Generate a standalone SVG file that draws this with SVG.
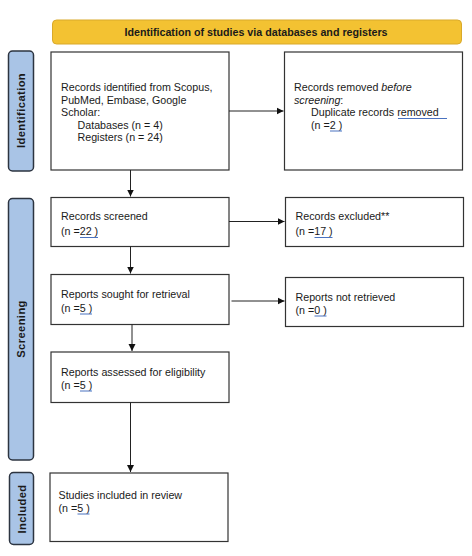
<svg xmlns="http://www.w3.org/2000/svg" width="472" height="556" viewBox="0 0 472 556">
<defs>
<style>
.box{fill:#fff;stroke:#333;stroke-width:1.2}
.side{fill:#a9c4e6;stroke:#2c3440;stroke-width:1.5}
.t{font-family:"Liberation Sans",Arial,sans-serif;font-size:10.7px;fill:#1a1a1a}
.sl{font-family:"Liberation Sans",Arial,sans-serif;font-size:11.2px;font-weight:bold;fill:#1a1a1a;letter-spacing:0.4px}
.hd{font-family:"Liberation Sans",Arial,sans-serif;font-size:10.7px;font-weight:bold;fill:#1a1a1a}
.ul{stroke:#4a72c0;stroke-width:1}
.c{stroke:#222;stroke-width:1;fill:none;marker-end:url(#ah)}
</style>
<marker id="ah" markerWidth="8" markerHeight="8" refX="7" refY="4" orient="auto" markerUnits="userSpaceOnUse">
<path d="M0,0.5 L7,4 L0,7.5 Z" fill="#111"/>
</marker>
</defs>
<rect width="472" height="556" fill="#fff"/>

<g id="header">
<rect x="52.5" y="20" width="409" height="24" rx="4" fill="#f3c232" stroke="#d9a92a" stroke-width="1"/>
<text class="hd" x="256" y="36" text-anchor="middle">Identification of studies via databases and registers</text>
</g>

<g id="side-identification">
<rect class="side" x="8.5" y="51" width="25" height="120" rx="4"/>
<text class="sl" transform="translate(25,110.5) rotate(-90)" text-anchor="middle">Identification</text>
</g>
<g id="side-screening">
<rect class="side" x="8.5" y="198.5" width="25" height="261.5" rx="4"/>
<text class="sl" transform="translate(25,329) rotate(-90)" text-anchor="middle">Screening</text>
</g>
<g id="side-included">
<rect class="side" x="9.5" y="472.5" width="24" height="72" rx="4"/>
<text class="sl" transform="translate(25.5,509) rotate(-90)" text-anchor="middle">Included</text>
</g>

<g id="records-identified">
<rect class="box" x="51" y="52" width="178" height="118"/>
<text class="t" x="61" y="91">Records identified from Scopus,</text>
<text class="t" x="61" y="103.5">PubMed, Embase, Google</text>
<text class="t" x="61" y="116">Scholar:</text>
<text class="t" x="77.5" y="128.5">Databases (n = 4)</text>
<text class="t" x="77.5" y="141">Registers (n = 24)</text>
</g>

<g id="records-removed">
<rect class="box" x="284.5" y="52" width="178" height="118"/>
<text class="t" x="294" y="91">Records removed <tspan font-style="italic">before</tspan></text>
<text class="t" x="294" y="103.5"><tspan font-style="italic">screening</tspan>:</text>
<text class="t" x="311" y="116">Duplicate records removed</text>
<text class="t" x="311" y="128.5">(n =2 )</text>
<line class="ul" x1="398" y1="118.5" x2="447" y2="118.5"/>
<line class="ul" x1="330" y1="131" x2="342" y2="131"/>
</g>

<g id="records-screened">
<rect class="box" x="51" y="197.5" width="178" height="49"/>
<text class="t" x="61" y="220">Records screened</text>
<text class="t" x="61" y="235">(n =22 )</text>
<line class="ul" x1="80" y1="237.5" x2="98" y2="237.5"/>
</g>

<g id="records-excluded">
<rect class="box" x="285.5" y="197.5" width="178" height="49"/>
<text class="t" x="295.5" y="220">Records excluded**</text>
<text class="t" x="295.5" y="235">(n =17 )</text>
<line class="ul" x1="314.5" y1="237.5" x2="332.5" y2="237.5"/>
</g>

<g id="reports-sought">
<rect class="box" x="51" y="274.5" width="178" height="50"/>
<text class="t" x="61" y="298">Reports sought for retrieval</text>
<text class="t" x="61" y="311.5">(n =5 )</text>
<line class="ul" x1="80" y1="314" x2="92" y2="314"/>
</g>

<g id="reports-not-retrieved">
<rect class="box" x="285.5" y="277.5" width="178" height="49"/>
<text class="t" x="295.5" y="300.5">Reports not retrieved</text>
<text class="t" x="295.5" y="313.5">(n =0 )</text>
<line class="ul" x1="314.5" y1="316" x2="326.5" y2="316"/>
</g>

<g id="reports-assessed">
<rect class="box" x="51" y="352" width="178" height="50.5"/>
<text class="t" x="61" y="376">Reports assessed for eligibility</text>
<text class="t" x="61" y="388.5">(n =5 )</text>
<line class="ul" x1="80" y1="391" x2="92" y2="391"/>
</g>

<g id="studies-included">
<rect class="box" x="50" y="473" width="178" height="68.5"/>
<text class="t" x="58.5" y="499">Studies included in review</text>
<text class="t" x="58.5" y="511.5">(n =5 )</text>
<line class="ul" x1="77.5" y1="514" x2="89.5" y2="514"/>
</g>

<g id="connectors">
<line class="c" x1="229" y1="111" x2="283.5" y2="111"/>
<line class="c" x1="130.5" y1="170" x2="130.5" y2="196.5"/>
<line class="c" x1="229" y1="221.5" x2="284.5" y2="221.5"/>
<line class="c" x1="130.5" y1="246.5" x2="130.5" y2="273.5"/>
<line class="c" x1="231.5" y1="301" x2="284.5" y2="301"/>
<line class="c" x1="132" y1="324.5" x2="132" y2="351"/>
<line class="c" x1="130.5" y1="402.5" x2="130.5" y2="472"/>
</g>
</svg>
